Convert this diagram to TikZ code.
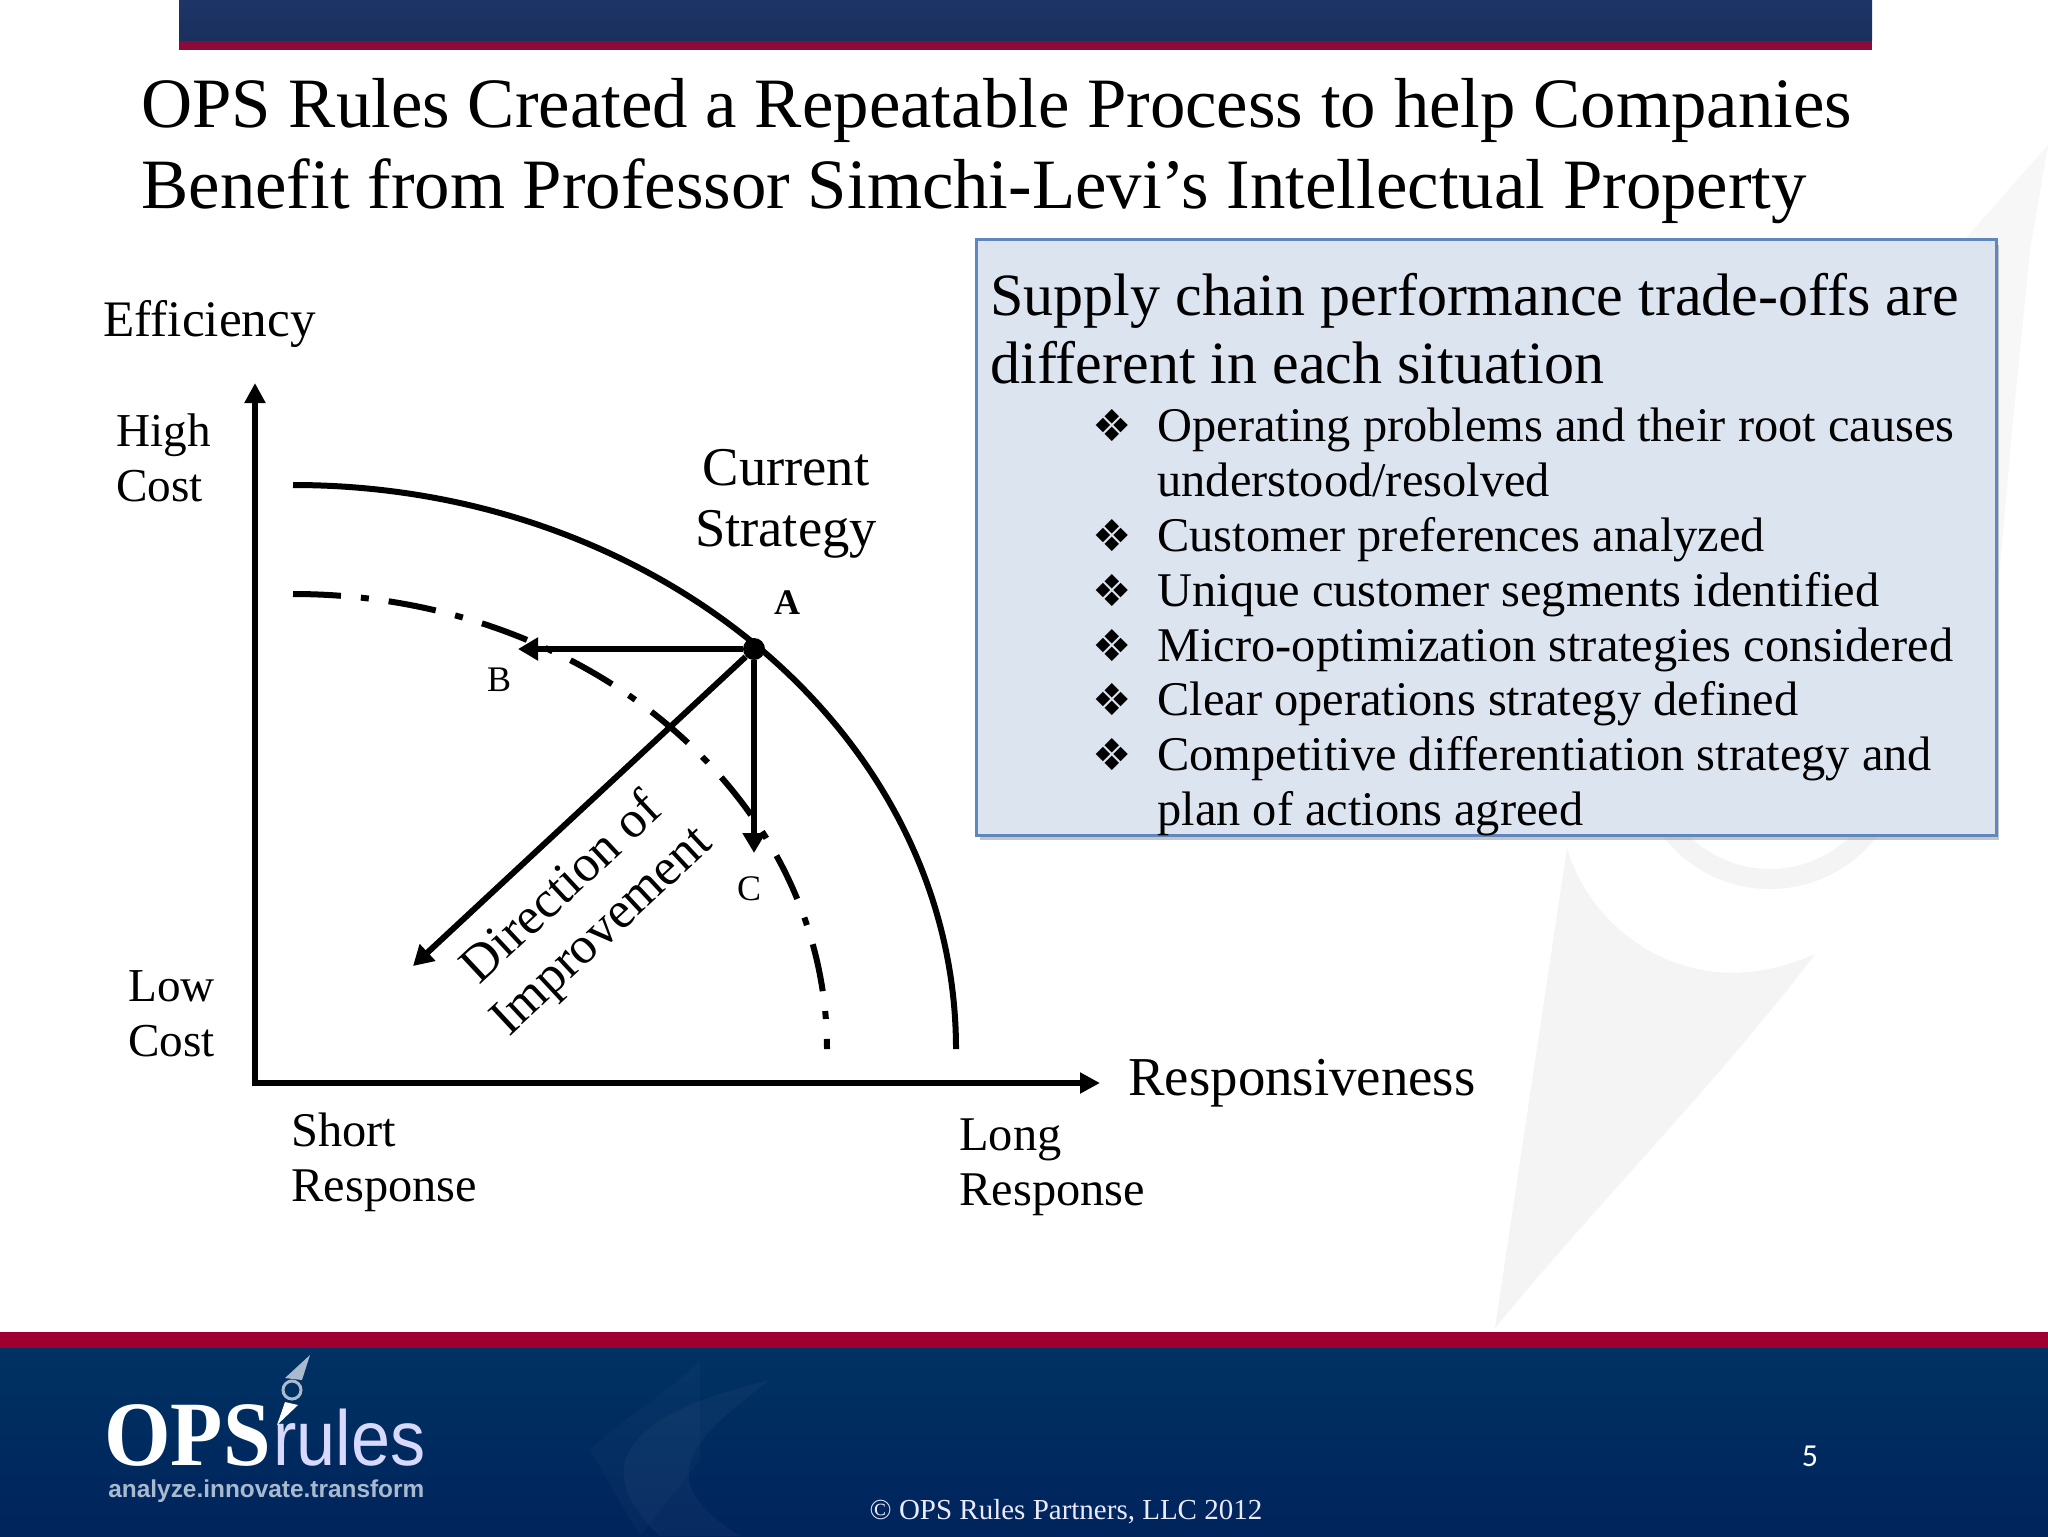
\documentclass[tikz,border=0pt]{standalone}
\usepackage{fontspec}
\setmainfont{Liberation Serif}
\newfontfamily\sansfont{Liberation Sans}
\newfontfamily\bulletfont{DejaVu Sans}
\newfontfamily\pagefont{Carlito}
\usetikzlibrary{arrows.meta,shadows}
\definecolor{bandblue}{HTML}{00245C}
\definecolor{bandtop}{HTML}{003263}
\definecolor{bandred}{HTML}{A00030}
\definecolor{barblue}{HTML}{1D3567}
\definecolor{barred}{HTML}{8C0A38}
\definecolor{boxfill}{HTML}{DCE4F0}
\definecolor{boxline}{HTML}{5F87BE}
\definecolor{markgray}{HTML}{F5F4F5}
\definecolor{logogray}{HTML}{A9B9CE}
\newcommand{\fsz}[1]{\fontsize{#1}{#1}\selectfont}
\tikzset{
  txt/.style={anchor=base west,inner sep=0pt,text=black},
  curve/.style={line width=3pt},
  axisline/.style={line width=3pt,-{Triangle[length=10pt,width=10pt]}},
  movearrow/.style={line width=3pt,-{Triangle[length=10pt,width=11pt]}},
  dashcurve/.style={line width=3pt,dash pattern=on 24pt off 10pt on 4pt off 10pt},
  markshape/.style={fill=markgray,draw=none},
}
\begin{document}
\begin{tikzpicture}[x=0.5pt,y=-0.5pt]
\useasboundingbox (0,0) rectangle (2048,1536);
%%%%% Watermark %%%%%
\fill[white] (0,0) rectangle (2048,1536);
\fill[markshape] (1495,1328)--(1567,848) .. controls (1590,930) and (1690,1010) .. (1815,954) .. controls (1720,1080) and (1600,1200) .. cycle;
\fill[markshape,even odd rule] (1770,754) circle[radius=135] (1770,754) circle[radius=115];
\fill[markgray!70!white] (2048,145)--(1965,239)--(1997,239)--(1997,600)--(2012,430)--(2030,250)--cycle;
%%%%% Bars %%%%%
\shade[top color=barblue,bottom color=barblue!90!black] (179,0) rectangle (1872,41);
\fill[barred] (179,41) rectangle (1872,50);
\fill[bandred] (0,1332) rectangle (2048,1348);
\shade[top color=bandtop,bottom color=bandblue] (0,1348) rectangle (2048,1536);
\fill[white,opacity=0.03] (660,1536) .. controls (600,1480) and (600,1420) .. (770,1380) .. controls (690,1440) and (650,1480) .. (740,1536)--cycle;
\fill[white,opacity=0.02] (590,1450) .. controls (620,1420) and (660,1400) .. (700,1360)--(700,1460)--(640,1536)--cycle;
%%%%% Title %%%%%
\node[txt,font=\fsz{35.4}] (titleA) at (141,127) {OPS Rules Created a Repeatable Process to help Companies};
\node[txt,font=\fsz{35.4}] (titleB) at (141,208) {Benefit from Professor Simchi-Levi’s Intellectual Property};
%%%%% Box %%%%%
\node[anchor=north west,inner sep=0pt,minimum width=509.8pt,minimum height=297.8pt,fill=boxfill,draw=boxline,line width=1.5pt,
  drop shadow={shadow xshift=1.5pt,shadow yshift=-2.5pt,opacity=0.45}] (infobox) at (975,238) {};
\node[txt,font=\fsz{30}] (headA) at (990,315) {Supply chain performance trade-offs are};
\node[txt,font=\fsz{30}] (headB) at (990,383) {different in each situation};
\foreach \i/\y/\txt in {a/441/Operating problems and their root causes,b/496/{understood/resolved},c/551/Customer preferences analyzed,d/606/Unique customer segments identified,e/661/Micro-optimization strategies considered,f/715/Clear operations strategy defined,g/770/Competitive differentiation strategy and,h/825/plan of actions agreed}{
\node[txt,font=\fsz{24.2}] (item\i) at (1157,\y) {\txt};
}
\foreach \i/\y in {a/441,c/551,d/606,e/661,f/715,g/770}{
\node[anchor=base,inner sep=0pt,font=\bulletfont\fsz{22}] (bullet\i) at (1112,\y) {❖};
}
%%%%% Axis %%%%%
\coordinate (origin) at (255,1083);
\coordinate (ytop) at (255,383);
\coordinate (xend) at (1100,1083);
\draw[axisline] (255,1086)--(ytop);
\draw[axisline] (252,1083)--(xend);
\node[txt,font=\fsz{25.6}] (efficiency) at (103,336) {Efficiency};
\node[txt,font=\fsz{27.4}] (responsive) at (1128,1095) {Responsiveness};
\node[txt,font=\fsz{23.6}] (high) at (116,446) {High};
\node[txt,font=\fsz{23.6}] (highcost) at (116,501) {Cost};
\node[txt,font=\fsz{23.6}] (low) at (128,1001) {Low};
\node[txt,font=\fsz{23.6}] (lowcost) at (128,1056) {Cost};
\node[txt,font=\fsz{24.2}] (short) at (291,1146) {Short};
\node[txt,font=\fsz{24.2}] (shortresp) at (291,1201) {Response};
\node[txt,font=\fsz{24.2}] (long) at (959,1150) {Long};
\node[txt,font=\fsz{24.2}] (longresp) at (959,1205) {Response};
%%%%% Curves %%%%%
\draw[curve] (293,485) .. controls (659,485) and (956,737) .. (956,1049);
\draw[dashcurve] (293,594) .. controls (588,594) and (827,798) .. (827,1049);
\node[circle,fill=black,inner sep=0pt,minimum size=11pt] (ptA) at (754,649) {};
\coordinate (tipB) at (518,649);
\coordinate (tipC) at (754,853);
\coordinate (tipD) at (413,966);
\draw[movearrow] (ptA)--(tipB);
\draw[movearrow] (ptA)--(tipC);
\draw[movearrow] (ptA)--(tipD);
\node[anchor=base,inner sep=0pt,font=\fsz{27.3}] (current) at (786,485) {Current};
\node[anchor=base,inner sep=0pt,font=\fsz{27.3}] (strategy) at (786,546) {Strategy};
\node[anchor=base,inner sep=0pt,font=\bfseries\fsz{18}] (labelA) at (787,614) {A};
\node[anchor=base,inner sep=0pt,font=\fsz{18}] (labelB) at (499,691) {B};
\node[anchor=base,inner sep=0pt,font=\fsz{18}] (labelC) at (749,900) {C};
\node[rotate=43,align=center,inner sep=0pt,font=\fsz{26}] (direction) at (583,911) {Direction of\\[3pt]Improvement};
%%%%% Footer %%%%%
\node[anchor=base west,inner sep=0pt,text=white,font=\bfseries\fsz{46},xscale=0.93] (logoA) at (104,1465) {OPS};
\node[anchor=base west,inner sep=0pt,text=white!85!blue,font=\sansfont\fsz{39},xscale=0.9] (logoB) at (273,1465) {rules};
\node[anchor=base west,inner sep=0pt,text=logogray,font=\sansfont\bfseries\fsz{12.2}] (logoC) at (108,1497) {analyze.innovate.transform};
\fill[logogray] (310,1355)--(285,1378)--(302,1380)--cycle;
\draw[logogray,line width=1.5pt] (292,1390) circle[radius=9];
\fill[white] (285,1402)--(277,1425)--(298,1405)--cycle;
\node[anchor=base,inner sep=0pt,text=white,font=\pagefont\fsz{16}] (pagenum) at (1810,1466) {5};
\node[anchor=base,inner sep=0pt,text=white!92!blue,font=\fsz{14.5}] (copyright) at (1066,1519) {© OPS Rules Partners, LLC 2012};
\end{tikzpicture}
\end{document}
